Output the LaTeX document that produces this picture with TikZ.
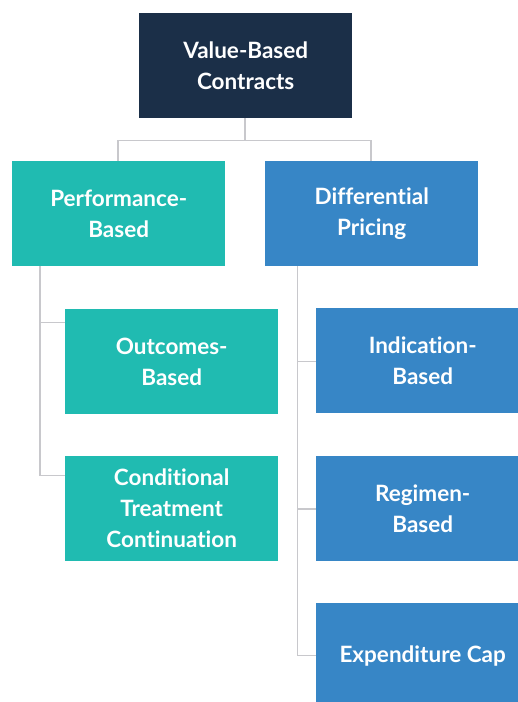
\documentclass[tikz,border=0pt]{standalone}
\usepackage{fontspec}
\setmainfont{Lato}[Ligatures={NoCommon,NoRare}]
\definecolor{navy}{HTML}{1B2F48}
\definecolor{teal}{HTML}{20BBB1}
\definecolor{steel}{HTML}{3786C6}
\definecolor{linkgray}{HTML}{C8C8CC}
\begin{document}
\begin{tikzpicture}[x=1pt,y=-1pt,
  box/.style={minimum width=213pt,minimum height=105pt,inner sep=0pt,anchor=north west,
    text=white,align=center,font=\fontsize{22.5}{31}\selectfont\bfseries},
  rootbox/.style={box,fill=navy},
  perfbox/.style={box,fill=teal},
  pricebox/.style={box,fill=steel},
  link/.style={draw=linkgray,line width=1.5pt}]
\useasboundingbox (0,0) rectangle (518,702);
\clip (0,0) rectangle (518,702);
\fill[white] (0,0) rectangle (518,702);

% branching points of the top level
\coordinate (split) at (245,140.5);
\coordinate (lsplit) at (118,140.5);
\coordinate (rsplit) at (371,140.5);

\node[rootbox] (root) at (139,13) {Value-Based\\Contracts};
\node[perfbox] (perf) at (12,161) {Performance-\\Based};
\node[pricebox] (diff) at (265,161) {Differential\\Pricing};

\node[perfbox] (outc) at (65,309) {Outcomes-\\Based};
\node[perfbox] (cond) at (65,456) {Conditional\\Treatment\\Continuation};

\node[pricebox] (ind) at (316,308) {Indication-\\Based};
\node[pricebox] (reg) at (316,456) {Regimen-\\Based};
\node[pricebox] (exp) at (316,603) {Expenditure Cap};

% trunks that hang below the second level
\coordinate (ltrunk) at (40,266);
\coordinate (rtrunk) at (297.5,266);

\draw[link] (root.south -| split) -- (split);
\draw[link] (perf.north -| lsplit) |- (rsplit) -- (diff.north -| rsplit);
\draw[link] (ltrunk) |- (outc.west |- 0,322.5);
\draw[link] (ltrunk) |- (cond.west |- 0,475.5);
\draw[link] (rtrunk) |- (ind.west |- 0,361.5);
\draw[link] (rtrunk) |- (reg.west |- 0,509);
\draw[link] (rtrunk) |- (exp.west);
\end{tikzpicture}
\end{document}
